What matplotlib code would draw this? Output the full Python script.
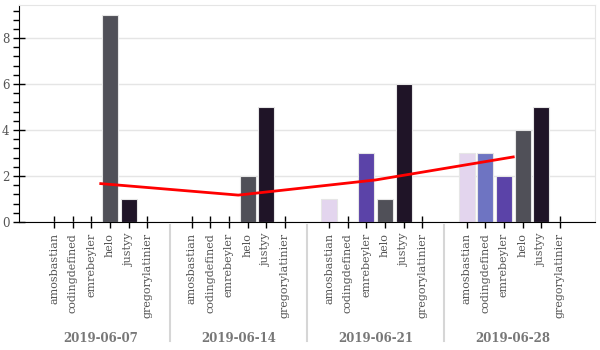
import matplotlib
matplotlib.use("Agg")
import matplotlib.pyplot as plt
from matplotlib.ticker import MultipleLocator

dates = ["2019-06-07", "2019-06-14", "2019-06-21", "2019-06-28"]
users = ["amosbastian", "codingdefined", "emrebeyler", "helo", "justyy", "gregorylatinier"]
counts = {
    "2019-06-07": [0, 0, 0, 9, 1, 0],
    "2019-06-14": [0, 0, 0, 2, 5, 0],
    "2019-06-21": [1, 0, 3, 1, 6, 0],
    "2019-06-28": [3, 3, 2, 4, 5, 0],
}
trend = [1.67, 1.17, 1.83, 2.83]
colors = ["#e3d5ee", "#6e74c2", "#5b43a8", "#505058", "#1f1427", "#1f1427"]

GP = 1.4
n = len(users)

fig = plt.figure(figsize=(6, 3.5), dpi=100)
ax = fig.add_axes([19/600, 1-222/350, 576/600, 217/350])

xs_all, labels_all = [], []
centers = []
for g, d in enumerate(dates):
    base = g * (n + GP)
    xs = [base + i for i in range(n)]
    ax.bar(xs, counts[d], width=0.86, color=colors, edgecolor="#e6e6e6", linewidth=0.8, zorder=2)
    xs_all += xs
    labels_all += users
    centers.append(base + (n - 1) / 2)

ax.plot(centers, trend, color="red", lw=2, zorder=3)

ax.set_xlim(-0.5 - 1.4, xs_all[-1] + 0.5 + 1.4)
ax.set_ylim(0, 9.44)
ax.yaxis.set_major_locator(MultipleLocator(2))
ax.yaxis.set_minor_locator(MultipleLocator(0.4))
ax.grid(axis="y", color="#e5e5e5", lw=1, zorder=0)
ax.set_axisbelow(True)

ax.set_xticks(xs_all)
ax.set_xticklabels(labels_all, rotation=90, family="DejaVu Serif", fontsize=8, color="#555555")
ax.tick_params(axis="x", direction="inout", length=8, width=1, pad=4)
ax.tick_params(axis="y", which="major", direction="inout", length=8, width=1, labelsize=8.5, labelcolor="#555555", pad=3)
ax.tick_params(axis="y", which="minor", direction="out", length=4, width=1)
for lab in ax.get_yticklabels():
    lab.set_family("DejaVu Serif")

for s in ["top", "right"]:
    ax.spines[s].set_color("#e5e5e5")
for s in ["left", "bottom"]:
    ax.spines[s].set_color("black")

# group labels
for c, d in zip(centers, dates):
    ax.text(c, -0.535, d, transform=ax.get_xaxis_transform(), ha="center", va="center",
            fontsize=8.5, fontweight="bold", color="#777777", family="DejaVu Serif")

# separators
for g in range(len(dates) - 1):
    xsep = g * (n + GP) + (n - 1) + (1 + GP) / 2
    ax.plot([xsep, xsep], [-0.015, -0.55], transform=ax.get_xaxis_transform(),
            color="#d6d6d6", lw=1.5, clip_on=False)

fig.savefig("out.png", dpi=100)
